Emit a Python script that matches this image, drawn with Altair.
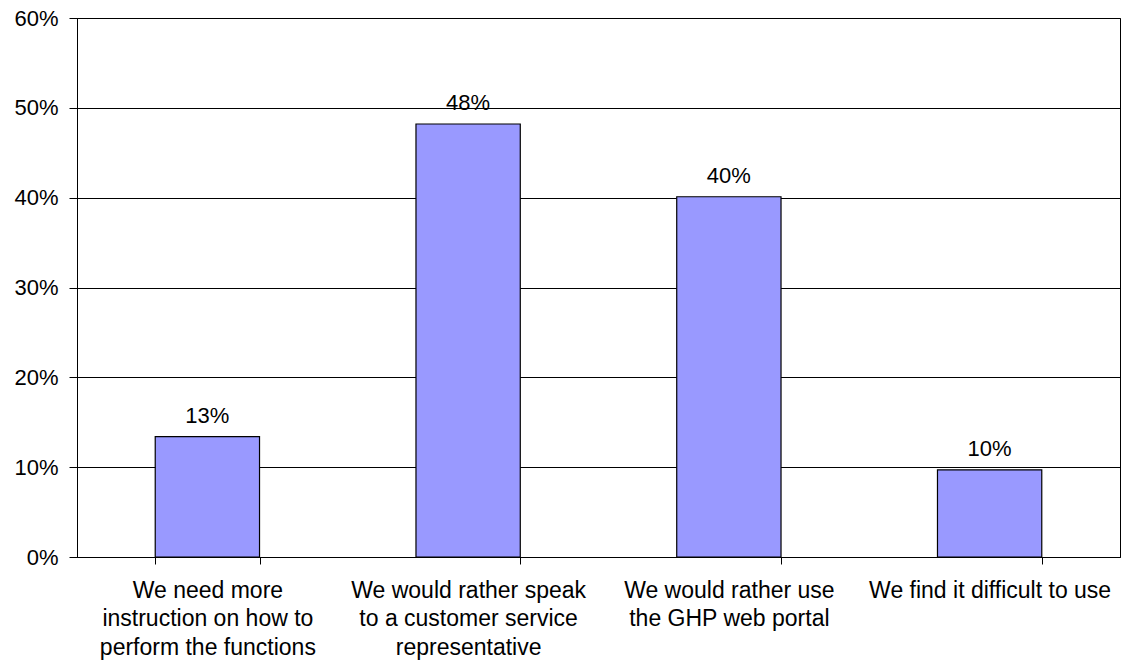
import altair as alt
import pandas as pd

categories = [
    "We need more|instruction on how to|perform the functions",
    "We would rather speak|to a customer service|representative",
    "We would rather use|the GHP web portal",
    "We find it difficult to use",
]
values = [0.134, 0.482, 0.401, 0.097]
labels = ["13%", "48%", "40%", "10%"]

df = pd.DataFrame({"cat": categories, "val": values, "lab": labels})

FONT = "Liberation Sans"
FS = 22

x = alt.X(
    "cat:N",
    sort=categories,
    title=None,
    scale=alt.Scale(paddingInner=0.6, paddingOuter=0.3),
    axis=alt.Axis(
        labelAngle=0,
        labelExpr="split(datum.label, '|')",
        labelFont=FONT,
        labelFontSize=23,
        labelColor="black",
        labelLineHeight=28.5,
        labelPadding=15,
        labelLimit=400,
        tickBand="extent",
        tickColor="black",
        tickSize=7,
        domainColor="black",
        grid=False,
    ),
)

y = alt.Y(
    "val:Q",
    title=None,
    scale=alt.Scale(domain=[0, 0.6], nice=False),
    axis=alt.Axis(
        format=".0%",
        values=[0, 0.1, 0.2, 0.3, 0.4, 0.5, 0.6],
        labelFont=FONT,
        labelFontSize=FS,
        labelColor="black",
        labelPadding=11,
        tickColor="black",
        tickSize=8,
        domainColor="black",
        gridColor="black",
        gridOpacity=1,
        gridWidth=1,
    ),
)

base = alt.Chart(df).encode(x=x, y=y)

bars = base.mark_bar(color="#9999FF", stroke="black", strokeWidth=1.2)
texts = base.mark_text(
    baseline="alphabetic", dy=-14, font=FONT, fontSize=FS, color="black"
).encode(text="lab:N")

chart = (
    (bars + texts)
    .properties(
        width=1043,
        height=539,
        autosize=alt.AutoSizeParams(type="none"),
        padding={"left": 77, "top": 18, "right": 4, "bottom": 108},
        background="white",
    )
    .configure_view(stroke="black", strokeWidth=1)
)

chart.save("out.html", embed_options={"renderer": "svg", "actions": False})
